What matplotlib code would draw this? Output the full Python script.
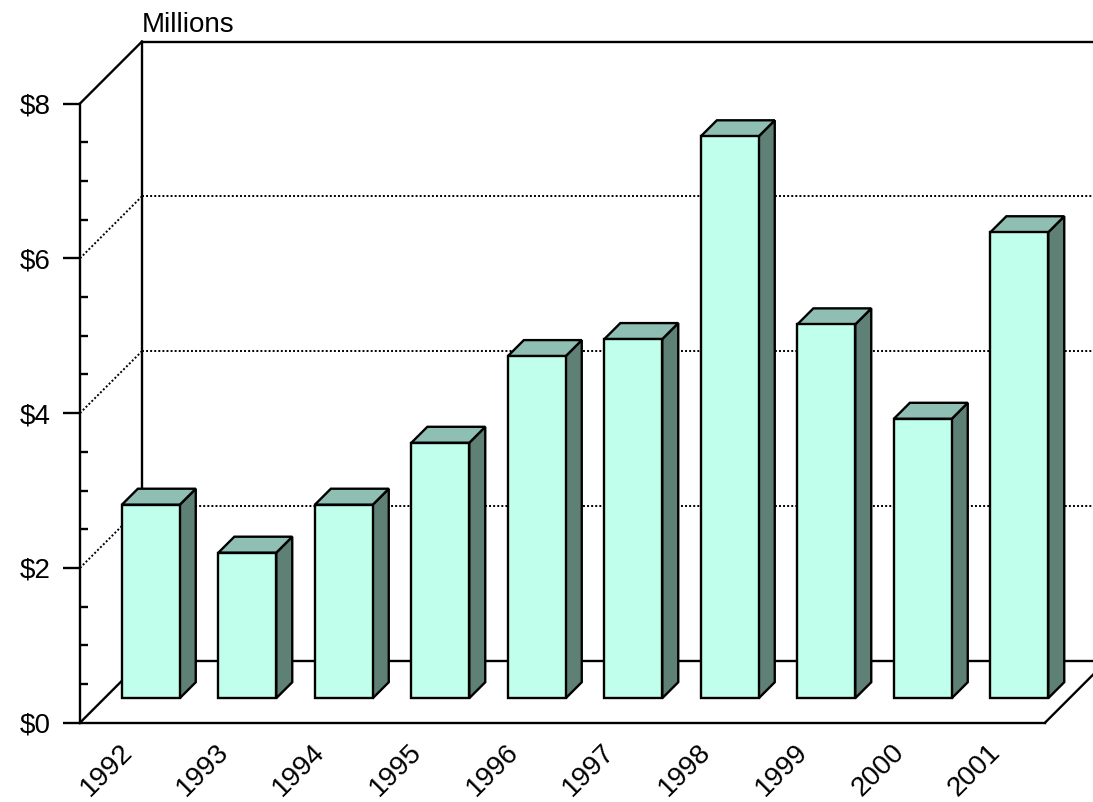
import matplotlib.pyplot as plt
from matplotlib.patches import Polygon

years = ['1992', '1993', '1994', '1995', '1996', '1997', '1998', '1999', '2000', '2001']
values = [2.5, 1.88, 2.5, 3.3, 4.42, 4.64, 7.26, 4.83, 3.61, 6.02]  # millions of dollars
y_major = [0, 2, 4, 6, 8]
y_labels = ['$0', '$2', '$4', '$6', '$8']

# pixel scale of one category / one dollar, and the 3D depth offset
PX_X = 96.5
PX_Y = 77.4
DEPTH_PX = 62
DX = DEPTH_PX / PX_X
DY = DEPTH_PX / PX_Y

FRONT = '#C0FFEC'
TOP = '#8FBFB2'
SIDE = '#5F8074'
LW = 1.7
FS = 20


def proj(x, y, d):
    # shift a point on the front plane back by depth fraction d
    return (x + d * DX, y + d * DY)


def draw_bar(ax, i, v, left=0.18, width=0.6, d0=0.395, d1=0.653):
    x0 = i + left
    x1 = x0 + width
    front = [proj(x0, 0, d0), proj(x1, 0, d0), proj(x1, v, d0), proj(x0, v, d0)]
    top = [proj(x0, v, d0), proj(x1, v, d0), proj(x1, v, d1), proj(x0, v, d1)]
    side = [proj(x1, 0, d0), proj(x1, 0, d1), proj(x1, v, d1), proj(x1, v, d0)]
    for pts, col in [(side, SIDE), (top, TOP), (front, FRONT)]:
        ax.add_patch(Polygon(pts, closed=True, facecolor=col, edgecolor='black',
                             linewidth=LW, joinstyle='miter', zorder=3))


fig = plt.figure(figsize=(10.93, 8.02), dpi=100)
ax = fig.add_axes([0, 0, 1, 1])
ax.set_xlim(-80 / PX_X, (1093 - 80) / PX_X)
ax.set_ylim((722.7 - 802) / PX_Y, 722.7 / PX_Y)

n = len(years)
line_kw = dict(color='black', linewidth=LW, solid_capstyle='projecting', zorder=2)
dot_kw = dict(color='black', linewidth=1.4, linestyle=(0, (1, 1.1)), zorder=1)

# walls and floor outline
ax.plot([0, DX], [0, DY], **line_kw)
ax.plot([0, DX], [8, 8 + DY], **line_kw)
ax.plot([DX, DX], [DY, 8 + DY], **line_kw)
ax.plot([DX, n + DX], [8 + DY, 8 + DY], **line_kw)
ax.plot([DX, n + DX], [DY, DY], **line_kw)
ax.plot([n, n + DX], [0, DY], **line_kw)

# dotted gridlines on side wall and back wall
for v in y_major[1:-1]:
    ax.plot([0, DX], [v, v + DY], **dot_kw)
    ax.plot([DX, n + DX], [v + DY, v + DY], **dot_kw)

for i, v in enumerate(values):
    draw_bar(ax, i, v)

# front axis using the real spines
for s in ['top', 'right']:
    ax.spines[s].set_visible(False)
ax.spines['left'].set_position(('data', 0))
ax.spines['left'].set_bounds(0, 8)
ax.spines['bottom'].set_position(('data', 0))
ax.spines['bottom'].set_bounds(0, n)
for s in ['left', 'bottom']:
    ax.spines[s].set_linewidth(LW)
    ax.spines[s].set_zorder(4)

ax.set_yticks(y_major, y_labels)
ax.set_yticks([v + 0.5 * k for v in y_major[:-1] for k in (1, 2, 3)], minor=True)
ax.tick_params(axis='y', which='major', direction='out', length=12.2, width=LW,
               pad=9, labelsize=FS)
ax.tick_params(axis='y', which='minor', direction='in', length=5.8, width=LW)

ax.set_xticks([i + 0.5 for i in range(n)], years, rotation=45, ha='right',
              va='center', rotation_mode='anchor')
ax.tick_params(axis='x', length=0, pad=18.5, labelsize=FS)

for lab in ax.get_xticklabels() + ax.get_yticklabels():
    lab.set_fontfamily('Liberation Sans')

ax.text(DX, 8 + DY + 9.8 / PX_Y, 'Millions', ha='left', va='baseline',
        fontsize=FS, family='Liberation Sans')

fig.savefig('out.png', dpi=100)
